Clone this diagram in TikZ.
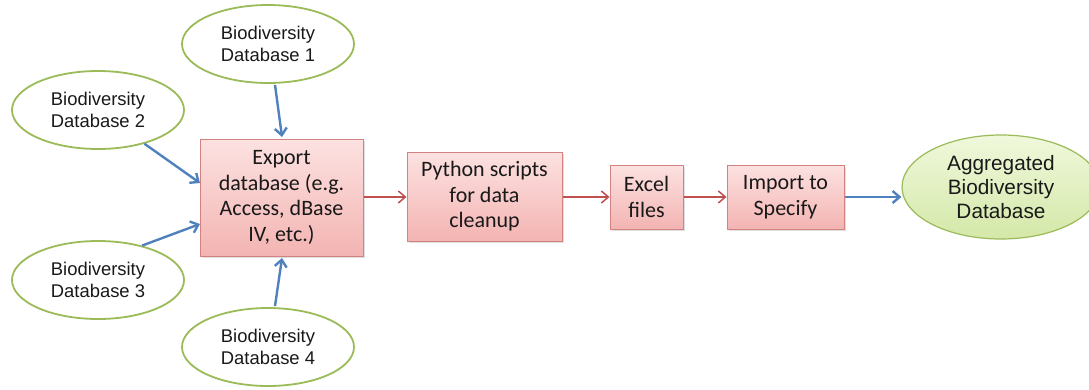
\documentclass[tikz,border=0pt]{standalone}
\usepackage{fontspec}
\setmainfont{Carlito}
\newfontfamily\arialfont{Liberation Sans}
\usetikzlibrary{shapes.geometric,arrows.meta,shadows}
\definecolor{srcgreen}{RGB}{155,187,89}
\definecolor{boxedge}{RGB}{210,130,128}
\definecolor{boxtop}{RGB}{252,226,225}
\definecolor{boxbot}{RGB}{243,180,178}
\definecolor{flowred}{RGB}{192,80,77}
\definecolor{flowblue}{RGB}{79,129,189}
\definecolor{aggtop}{RGB}{240,248,220}
\definecolor{aggbot}{RGB}{212,232,168}
\definecolor{txt}{RGB}{25,25,25}
\tikzset{
  srcdb/.style={ellipse, draw=srcgreen, line width=1.8pt, fill=white,
    minimum width=172pt, minimum height=78pt, inner sep=0pt,
    font=\arialfont\fontsize{18.4}{22}\selectfont, text=txt, align=center},
  aggdb/.style={ellipse, draw=srcgreen, line width=1.2pt,
    top color=aggtop, bottom color=aggbot,
    minimum width=198pt, minimum height=104pt, inner sep=0pt,
    font=\arialfont\fontsize{20.8}{24}\selectfont, text=txt, align=center},
  stepbox/.style={rectangle, draw=boxedge, line width=1pt,
    top color=boxtop, bottom color=boxbot,
    drop shadow={shadow xshift=1.5pt, shadow yshift=-1.5pt, opacity=0.25},
    inner sep=0pt, font=\fontsize{22}{25.5}\selectfont, text=txt, align=center},
  redflow/.style={-{Straight Barb[length=7pt,width=12pt]}, draw=flowred, line width=1.5pt},
  blueflow/.style={-{Straight Barb[length=7pt,width=12pt]}, draw=flowblue, line width=2.4pt},
}
\begin{document}
\begin{tikzpicture}[x=1pt,y=-1pt]
\useasboundingbox (0,0) rectangle (1089,389);

% source databases
\node[srcdb] (db1) at (268,44) {Biodiversity\\Database 1};
\node[srcdb] (db2) at (98,110) {Biodiversity\\Database 2};
\node[srcdb] (db3) at (98,280) {Biodiversity\\Database 3};
\node[srcdb] (db4) at (268,347) {Biodiversity\\Database 4};

% processing steps
\node[stepbox, minimum width=163pt, minimum height=117pt] (export) at (281.5,197.5)
  {Export\\database (e.g.\\Access, dBase\\IV, etc.)};
\node[stepbox, minimum width=155pt, minimum height=89pt] (python) at (484.5,196.5)
  {Python scripts\\for data\\cleanup};
\node[stepbox, minimum width=73pt, minimum height=64pt] (excel) at (646.5,197)
  {Excel\\files};
\node[stepbox, minimum width=117pt, minimum height=64pt] (import) at (785.5,197)
  {Import to\\Specify};

% target database
\node[aggdb] (agg) at (1001,187) {Aggregated\\Biodiversity\\Database};

% inputs into the export step
\coordinate (e1) at (282,137);
\coordinate (e4) at (282,258);
\coordinate (e2) at (200,183);
\coordinate (e3) at (200,224);
\draw[blueflow] (db1.south) ++(7,1) -- (e1);
\draw[blueflow] (db4.north) ++(7,-1) -- (e4);
\draw[blueflow] (db2.-36) -- (e2);
\draw[blueflow] (db3.38) -- (e3);

% main pipeline
\draw[redflow] (export.east |- 0,197) -- (python.west |- 0,197);
\draw[redflow] (python.east |- 0,197) -- (excel.west |- 0,197);
\draw[redflow] (excel.east |- 0,197) -- (import.west |- 0,197);
\draw[blueflow] (import.east |- 0,197) -- (agg.west |- 0,197);
\end{tikzpicture}
\end{document}
